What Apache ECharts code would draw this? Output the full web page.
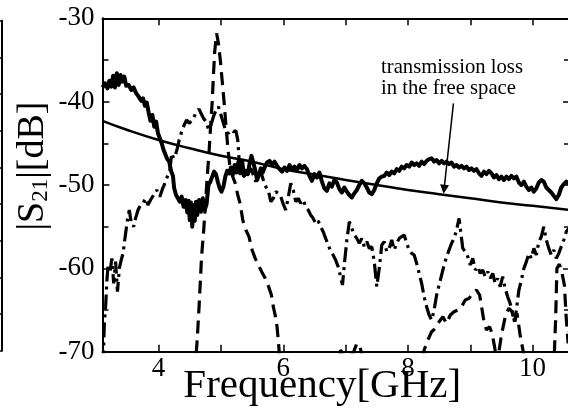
<!DOCTYPE html>
<html>
<head>
<meta charset="utf-8">
<script src="https://cdn.jsdelivr.net/npm/echarts@6/dist/echarts.min.js"></script>
<style>
  html, body { margin: 0; padding: 0; background: #fff; }
  #chart { width: 568px; height: 419px; }
</style>
</head>
<body>
<div id="chart"></div>
<script>
// Measured |S21| traces versus frequency (GHz / dB)

// Thick solid trace
const freqSolid = [3.10,3.14,3.18,3.21,3.24,3.27,3.30,3.33,3.36,3.39,3.42,3.45,3.48,3.52,3.56,3.60,3.64,3.68,3.72,3.75,3.78,3.81,3.84,3.87,3.90,3.93,3.96,3.99,4.02,4.05,4.08,4.11,4.14,4.17,4.20,4.23,4.25,4.28,4.31,4.34,4.37,4.40,4.43,4.46,4.48,4.50,4.52,4.54,4.56,4.58,4.60,4.62,4.65,4.68,4.71,4.74,4.77,4.80,4.83,4.86,4.89,4.92,4.95,4.98,5.01,5.04,5.07,5.10,5.13,5.16,5.19,5.22,5.25,5.28,5.31,5.34,5.37,5.40,5.43,5.46,5.49,5.52,5.55,5.58,5.61,5.64,5.67,5.70,5.74,5.78,5.82,5.86,5.90,5.94,5.98,6.02,6.06,6.10,6.14,6.18,6.22,6.26,6.30,6.34,6.38,6.42,6.46,6.50,6.54,6.58,6.62,6.66,6.70,6.74,6.78,6.82,6.86,6.90,6.94,6.98,7.02,7.06,7.10,7.14,7.18,7.22,7.26,7.30,7.34,7.38,7.42,7.46,7.50,7.54,7.58,7.62,7.66,7.70,7.74,7.78,7.82,7.86,7.90,7.94,7.98,8.02,8.06,8.10,8.14,8.18,8.22,8.26,8.30,8.34,8.38,8.42,8.46,8.50,8.54,8.58,8.62,8.66,8.70,8.74,8.78,8.82,8.86,8.90,8.94,8.98,9.02,9.06,9.10,9.14,9.18,9.22,9.26,9.30,9.34,9.38,9.42,9.46,9.50,9.54,9.58,9.62,9.66,9.70,9.74,9.78,9.82,9.86,9.90,9.94,9.98,10.02,10.06,10.10,10.14,10.18,10.22,10.26,10.30,10.34,10.38,10.42,10.46,10.50,10.54,10.58,10.60];
const s21Solid = [-38.3,-37.8,-38.4,-37.5,-38.2,-36.9,-38.3,-36.6,-38.0,-36.8,-37.6,-37.0,-38.1,-38.0,-38.6,-38.3,-39.0,-39.4,-39.9,-39.6,-40.5,-40.1,-41.3,-42.3,-41.6,-43.0,-42.4,-43.8,-44.4,-45.0,-45.8,-46.0,-46.9,-47.2,-48.3,-48.9,-50.4,-51.2,-51.6,-52.0,-51.4,-52.6,-51.8,-53.3,-51.9,-54.2,-52.1,-55.0,-52.4,-54.3,-52.0,-53.6,-51.8,-53.2,-51.6,-53.0,-52.3,-50.0,-49.6,-49.0,-48.4,-48.7,-49.6,-50.4,-50.8,-50.2,-49.0,-48.3,-48.6,-47.9,-48.8,-47.6,-48.5,-47.2,-48.6,-47.1,-48.9,-48.3,-48.7,-47.4,-46.5,-46.3,-48.2,-49.4,-48.8,-48.0,-48.5,-47.9,-47.3,-47.1,-47.6,-47.2,-47.7,-48.1,-48.4,-47.9,-48.3,-47.6,-48.1,-47.8,-48.2,-47.6,-48.0,-47.7,-48.1,-48.9,-49.5,-48.7,-49.1,-48.5,-49.6,-50.4,-50.7,-49.8,-50.2,-49.4,-49.7,-50.5,-50.9,-50.3,-50.8,-51.2,-51.5,-51.0,-50.6,-50.0,-49.5,-49.8,-50.3,-50.9,-51.1,-50.6,-49.8,-49.2,-49.0,-48.9,-48.5,-48.8,-48.4,-48.6,-48.1,-48.3,-47.8,-48.0,-47.6,-47.8,-47.3,-47.6,-47.4,-47.7,-47.2,-47.5,-47.1,-46.9,-46.8,-47.2,-47.0,-47.4,-47.1,-47.4,-47.2,-47.5,-47.3,-47.8,-47.6,-47.9,-47.7,-48.0,-47.8,-48.2,-48.0,-48.3,-48.1,-48.6,-48.9,-48.4,-48.7,-48.3,-48.6,-49.1,-48.8,-49.3,-49.0,-49.4,-49.0,-49.3,-48.9,-49.2,-49.0,-49.7,-50.0,-49.6,-50.2,-50.6,-50.3,-50.8,-50.4,-49.7,-49.4,-49.6,-50.3,-50.6,-50.9,-51.3,-51.7,-51.2,-50.3,-49.9,-49.6,-49.8,-49.9];

// Dashed trace (values below -70 dB fall outside the plot)
const freqDashed = [4.57,4.60,4.62,4.65,4.67,4.69,4.72,4.75,4.78,4.81,4.83,4.86,4.88,4.90,4.93,4.96,4.99,5.02,5.05,5.08,5.11,5.14,5.18,5.23,5.27,5.31,5.35,5.40,5.45,5.50,5.55,5.60,5.66,5.71,5.76,5.81,5.84,5.87,5.90,5.92,5.94,5.96,6.50,6.85,6.92,7.00,7.12,7.18,7.23,7.28,7.60,8.20,8.26,8.32,8.38,8.44,8.50,8.56,8.62,8.68,8.74,8.80,8.86,8.92,8.98,9.04,9.10,9.15,9.19,9.22,9.26,9.31,9.35,9.39,9.43,9.50,9.57,9.62,9.67,9.71,9.75,9.80,9.90,10.30,10.34,10.37,10.39,10.43,10.47,10.51,10.54,10.57,10.60];
const s21Dashed = [-75,-70.5,-68.5,-64.5,-61.5,-58.5,-55.8,-52.5,-49.0,-46.0,-43.5,-40.0,-36.8,-34.0,-31.8,-33.0,-35.0,-37.5,-40.0,-42.8,-45.5,-47.5,-48.8,-49.8,-51.2,-52.3,-54.2,-55.4,-56.2,-57.8,-58.8,-59.6,-60.5,-61.2,-62.1,-63.2,-64.6,-65.6,-67.0,-68.6,-70.5,-75,-78,-72,-69.8,-70.8,-70.2,-69.0,-69.4,-71,-76,-72.5,-69.8,-68.6,-67.6,-67.2,-66.4,-65.8,-66.6,-65.6,-65.2,-65.0,-64.6,-63.8,-63.6,-63.0,-62.6,-63.2,-65.0,-66.4,-67.4,-67.0,-67.8,-69.4,-71.5,-68.0,-65.5,-64.8,-65.2,-66.5,-65.4,-68.0,-72,-75,-72,-66,-60,-59.5,-60.5,-62,-66,-69,-67];

// Dash-dot trace
const freqDashDot = [3.10,3.12,3.13,3.15,3.17,3.19,3.22,3.25,3.28,3.31,3.34,3.37,3.40,3.43,3.46,3.50,3.53,3.56,3.60,3.63,3.67,3.71,3.75,3.79,3.83,3.87,3.92,3.97,4.02,4.06,4.10,4.14,4.18,4.21,4.24,4.27,4.30,4.33,4.37,4.41,4.45,4.49,4.53,4.57,4.61,4.65,4.68,4.72,4.76,4.80,4.84,4.88,4.92,4.96,5.00,5.04,5.08,5.12,5.16,5.20,5.24,5.27,5.29,5.32,5.36,5.40,5.44,5.48,5.52,5.56,5.60,5.64,5.68,5.72,5.76,5.80,5.84,5.88,5.92,5.96,6.00,6.04,6.08,6.12,6.16,6.20,6.24,6.28,6.32,6.36,6.40,6.44,6.48,6.52,6.56,6.60,6.64,6.68,6.72,6.76,6.80,6.84,6.88,6.92,6.95,6.98,7.02,7.06,7.10,7.14,7.18,7.22,7.26,7.30,7.34,7.38,7.42,7.46,7.50,7.54,7.58,7.62,7.66,7.70,7.74,7.78,7.82,7.86,7.90,7.94,7.98,8.02,8.06,8.10,8.14,8.18,8.22,8.26,8.30,8.34,8.38,8.42,8.46,8.50,8.54,8.58,8.62,8.66,8.70,8.74,8.78,8.82,8.85,8.88,8.92,8.96,9.00,9.04,9.08,9.12,9.16,9.20,9.24,9.28,9.32,9.36,9.40,9.44,9.48,9.52,9.56,9.60,9.64,9.68,9.71,9.74,9.78,9.82,9.86,9.90,9.94,9.98,10.02,10.06,10.10,10.14,10.18,10.22,10.26,10.30,10.34,10.38,10.42,10.46,10.50,10.54,10.58,10.60];
const s21DashDot = [-75,-69.0,-66.5,-64.6,-61.5,-59.5,-60.5,-58.8,-61.8,-59.2,-62.8,-60.0,-59.0,-58.2,-56.4,-54.2,-53.0,-54.5,-55.0,-54.0,-53.0,-52.4,-52.2,-51.6,-52.4,-51.8,-51.2,-50.6,-51.4,-50.5,-49.8,-49.0,-48.3,-46.2,-46.8,-46.4,-45.6,-44.6,-43.6,-42.8,-42.2,-42.6,-42.3,-41.8,-41.2,-40.9,-41.4,-42.0,-42.4,-43.3,-42.8,-41.8,-41.0,-40.6,-41.6,-42.6,-43.6,-43.8,-43.4,-43.6,-43.5,-44.6,-46.8,-47.6,-48.8,-49.2,-48.6,-48.0,-48.8,-49.6,-48.9,-48.4,-49.4,-50.2,-50.6,-52.0,-51.6,-50.8,-51.0,-51.4,-52.3,-53.0,-51.5,-49.8,-50.6,-52.0,-51.6,-52.2,-51.8,-52.6,-53.0,-53.6,-54.0,-54.6,-54.3,-55.0,-55.6,-56.4,-57.2,-57.9,-58.4,-59.0,-59.8,-61.0,-62.0,-59.5,-56.6,-54.4,-55.2,-56.0,-56.4,-57.0,-56.4,-57.4,-56.8,-57.6,-57.4,-59.2,-62.2,-60.0,-57.2,-56.8,-58.0,-57.6,-56.6,-57.8,-57.0,-56.4,-56.2,-56.0,-57.0,-57.8,-58.2,-58.4,-59.4,-60.6,-61.8,-63.4,-64.6,-65.6,-66.2,-65.0,-63.2,-62.0,-60.8,-59.6,-58.6,-57.8,-57.0,-56.4,-55.4,-54.0,-55.8,-57.6,-58.0,-58.6,-59.6,-58.8,-60.2,-59.8,-60.6,-60.2,-61.0,-60.4,-61.2,-60.6,-61.8,-61.2,-62.2,-61.0,-62.4,-63.4,-64.2,-65.4,-66.4,-65.0,-62.6,-61.4,-60.0,-59.2,-58.2,-58.8,-57.6,-58.4,-56.8,-56.2,-55.0,-56.6,-57.6,-58.4,-57.8,-58.8,-58.2,-57.4,-56.6,-55.6,-55.2,-55.6];

// Free-space transmission loss
const freqFree = [3.1,3.5,4.0,4.5,5.0,5.5,6.0,6.5,7.0,7.5,8.0,8.5,9.0,9.5,10.0,10.6];
const lossFree = [-42.3,-43.4,-44.6,-45.6,-46.5,-47.2,-48.1,-48.75,-49.4,-50.0,-50.6,-51.1,-51.6,-52.1,-52.5,-53.0];

// Axes
const xRange = [3.1, 10.6];
const yRange = [-70, -30];
const xTickValues = [4, 5, 6, 7, 8, 9, 10];
const xTickLabels = ['4', '6', '8', '10'];
const yTickLabels = ['-70', '-60', '-50', '-40', '-30'];

const pairs = (xs, ys) => xs.map((x, i) => [x, ys[i]]);
const serif = '"Liberation Serif", "Times New Roman", serif';

const chart = echarts.init(document.getElementById('chart'), null, { renderer: 'canvas' });

const axisLine = { show: true, lineStyle: { color: '#000', width: 2 } };

chart.setOption({
  animation: false,
  backgroundColor: '#fff',
  grid: [
    { left: 102.5, top: 18.3, width: 467.5, height: 333.4, outerBoundsMode: 'none', containLabel: false },
    { left: 2, top: 20.7, width: 1, height: 330, outerBoundsMode: 'none', containLabel: false }
  ],
  xAxis: [
    {
      type: 'value', gridIndex: 0, position: 'bottom',
      min: xRange[0], max: xRange[1],
      axisLine: axisLine,
      axisTick: { inside: true, length: 7, customValues: xTickValues, lineStyle: { color: '#000', width: 1.5 } },
      axisLabel: {
        customValues: xTickLabels.map(Number), margin: 4,
        color: '#000', fontFamily: serif, fontSize: 27,
        formatter: v => xTickLabels[xTickLabels.map(Number).indexOf(v)]
      },
      splitLine: { show: false },
      name: 'Frequency[GHz]', nameLocation: 'middle', nameGap: 14, nameMoveOverlap: false,
      nameTextStyle: { color: '#000', fontFamily: serif, fontSize: 41, padding: [0, 28, 0, 0] }
    },
    {
      type: 'value', gridIndex: 0, position: 'top',
      min: xRange[0], max: xRange[1],
      axisLine: axisLine,
      axisTick: { inside: true, length: 7, customValues: xTickValues, lineStyle: { color: '#000', width: 1.5 } },
      axisLabel: { show: false },
      splitLine: { show: false }
    },
    { type: 'value', gridIndex: 1, show: false, min: 0, max: 1 }
  ],
  yAxis: [
    {
      type: 'value', gridIndex: 0, position: 'left',
      min: yRange[0], max: yRange[1], interval: 10,
      axisLine: axisLine,
      axisTick: { inside: true, length: 7, lineStyle: { color: '#000', width: 1.5 } },
      minorTick: { show: true, splitNumber: 2, length: 6, lineStyle: { color: '#000', width: 1.5 } },
      axisLabel: {
        margin: 8, color: '#000', fontFamily: serif, fontSize: 27,
        formatter: v => yTickLabels[Math.round((v - yRange[0]) / 10)]
      },
      splitLine: { show: false }
    },
    {
      type: 'value', gridIndex: 0, position: 'right',
      min: yRange[0], max: yRange[1], interval: 10,
      axisLine: axisLine,
      axisTick: { inside: true, length: 7, lineStyle: { color: '#000', width: 1.5 } },
      minorTick: { show: true, splitNumber: 2, length: 6, lineStyle: { color: '#000', width: 1.5 } },
      axisLabel: { show: false },
      splitLine: { show: false }
    },
    {
      type: 'value', gridIndex: 1, min: 0, max: 9, interval: 1,
      axisLine: axisLine,
      axisTick: { length: 3, lineStyle: { color: '#000', width: 1.5 } },
      axisLabel: { show: false },
      splitLine: { show: false }
    }
  ],
  series: [
    {
      name: 'free space', type: 'line', xAxisIndex: 0, yAxisIndex: 0,
      data: pairs(freqFree, lossFree), smooth: true, showSymbol: false, silent: true,
      lineStyle: { color: '#000', width: 2.5 },
      markLine: {
        silent: true, symbol: ['none', 'triangle'], symbolSize: 9,
        label: { show: false },
        lineStyle: { color: '#000', width: 1.5, type: 'solid' },
        data: [[{ coord: [8.73, -40.2] }, { coord: [8.58, -50.5] }]]
      }
    },
    {
      name: 'solid', type: 'line', xAxisIndex: 0, yAxisIndex: 0,
      data: pairs(freqSolid, s21Solid), showSymbol: false, silent: true,
      lineStyle: { color: '#000', width: 4, join: 'round' }
    },
    {
      name: 'dashed', type: 'line', xAxisIndex: 0, yAxisIndex: 0,
      data: pairs(freqDashed, s21Dashed), showSymbol: false, silent: true,
      lineStyle: { color: '#000', width: 3.2, type: [13, 7] }
    },
    {
      name: 'dash-dot', type: 'line', xAxisIndex: 0, yAxisIndex: 0,
      data: pairs(freqDashDot, s21DashDot), showSymbol: false, silent: true,
      lineStyle: { color: '#000', width: 3.2, type: [15, 5, 3, 5] }
    }
  ],
  graphic: [
    {
      type: 'text', x: 33, y: 166, rotation: Math.PI / 2,
      style: {
        text: '{m||S}{s|21}{m||[dB]}',
        align: 'center', verticalAlign: 'middle',
        rich: {
          m: { fontFamily: serif, fontSize: 38, lineHeight: 38, fill: '#000', verticalAlign: 'top' },
          s: { fontFamily: serif, fontSize: 23, lineHeight: 23, fill: '#000', verticalAlign: 'bottom', padding: [20, 0, 0, 0] }
        }
      }
    },
    {
      type: 'text', x: 381, y: 57,
      style: {
        text: 'transmission loss\nin the free space',
        font: '20.7px ' + serif, fill: '#000', lineHeight: 21
      }
    }
  ]
});
</script>
</body>
</html>
